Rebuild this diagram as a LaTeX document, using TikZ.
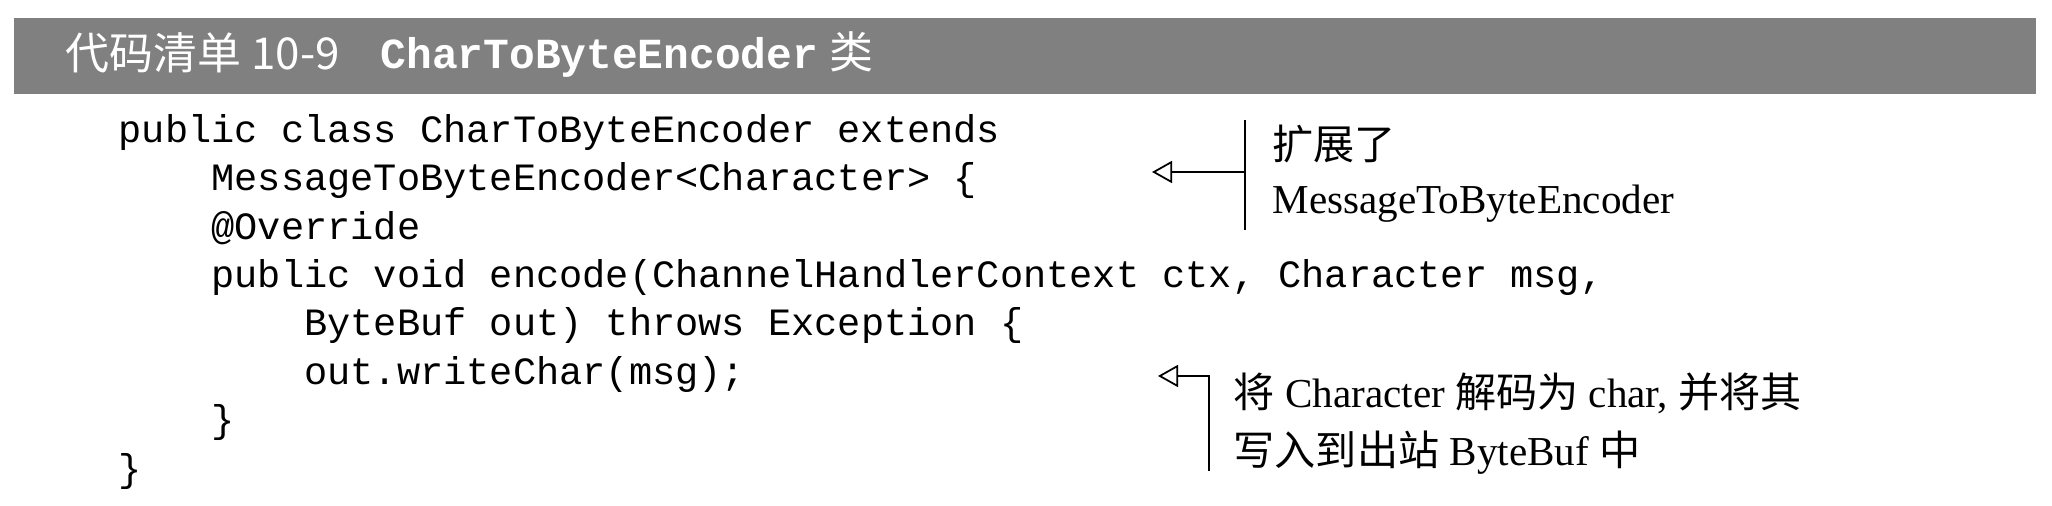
\documentclass[tikz,border=0pt]{standalone}
\usepackage{fontspec}
\setmainfont{Liberation Serif}
\setmonofont{Liberation Mono}
\newfontfamily\cjk{Noto Sans CJK SC}
\usetikzlibrary{arrows.meta,positioning}
\definecolor{bargray}{RGB}{128,128,128}

\begin{document}
\begin{tikzpicture}[
  codeline/.style={anchor=base west,inner sep=0pt,font=\ttfamily\fontsize{11}{13}\selectfont},
  notetext/.style={anchor=base west,inner sep=0pt,font=\fontsize{11.7}{14}\selectfont},
  titletext/.style={anchor=base west,inner sep=0pt,text=white},
  pointer/.style={line width=0.5pt,-{Triangle[open,length=2mm,width=2.2mm]}}]
\useasboundingbox (0,0) rectangle (20.52,-5.06);
% title bar
\node (bar) [fill=bargray,minimum width=20.22cm,minimum height=0.76cm,inner sep=0pt,anchor=north west] at (0.13,-0.17) {};
\node (title) [titletext,font=\cjk\fontsize{12.5}{14}\selectfont] at (0.65,-0.70) {代码清单 10-9};
\node (titlecls) [titletext,font=\ttfamily\bfseries\fontsize{12.2}{14}\selectfont] at (3.80,-0.69) {CharToByteEncoder};
\node (titlelei) [titletext,font=\cjk\fontsize{12.5}{14}\selectfont] at ([xshift=1mm]titlecls.base east) {类};
% code
\node (c1) [codeline] at (1.18,-1.43) {public class CharToByteEncoder extends};
\node (c2) [codeline] at (2.108,-1.91) {MessageToByteEncoder<Character> \{};
\node (c3) [codeline] at (2.108,-2.40) {@Override};
\node (c4) [codeline] at (2.108,-2.88) {public void encode(ChannelHandlerContext ctx, Character msg,};
\node (c5) [codeline] at (3.036,-3.36) {ByteBuf out) throws Exception \{};
\node (c6) [codeline] at (3.036,-3.85) {out.writeChar(msg);};
\node (c7) [codeline] at (2.108,-4.33) {\}};
\node (c8) [codeline] at (1.18,-4.82) {\}};
% annotations
\coordinate (tip1) at (11.52,-1.72);
\coordinate (bar1top) at (12.45,-1.20);
\coordinate (bar1bot) at (12.45,-2.30);
\draw[line width=0.5pt] (bar1top) -- (bar1bot);
\draw[pointer] (bar1top |- tip1) -- (tip1);
\node (note1a) [notetext] at (12.72,-1.60) {{\cjk 扩展了}};
\node (note1b) [notetext] at (12.72,-2.14) {MessageToByteEncoder};
\coordinate (tip2) at (11.58,-3.76);
\coordinate (bar2bot) at (12.09,-4.71);
\draw[pointer] (bar2bot) |- (tip2);
\node (note2a) [notetext] at (12.33,-4.08) {{\cjk 将} Character {\cjk 解码为} char, {\cjk 并将其}};
\node (note2b) [notetext] at (12.33,-4.66) {{\cjk 写入到出站} ByteBuf {\cjk 中}};
\end{tikzpicture}
\end{document}
